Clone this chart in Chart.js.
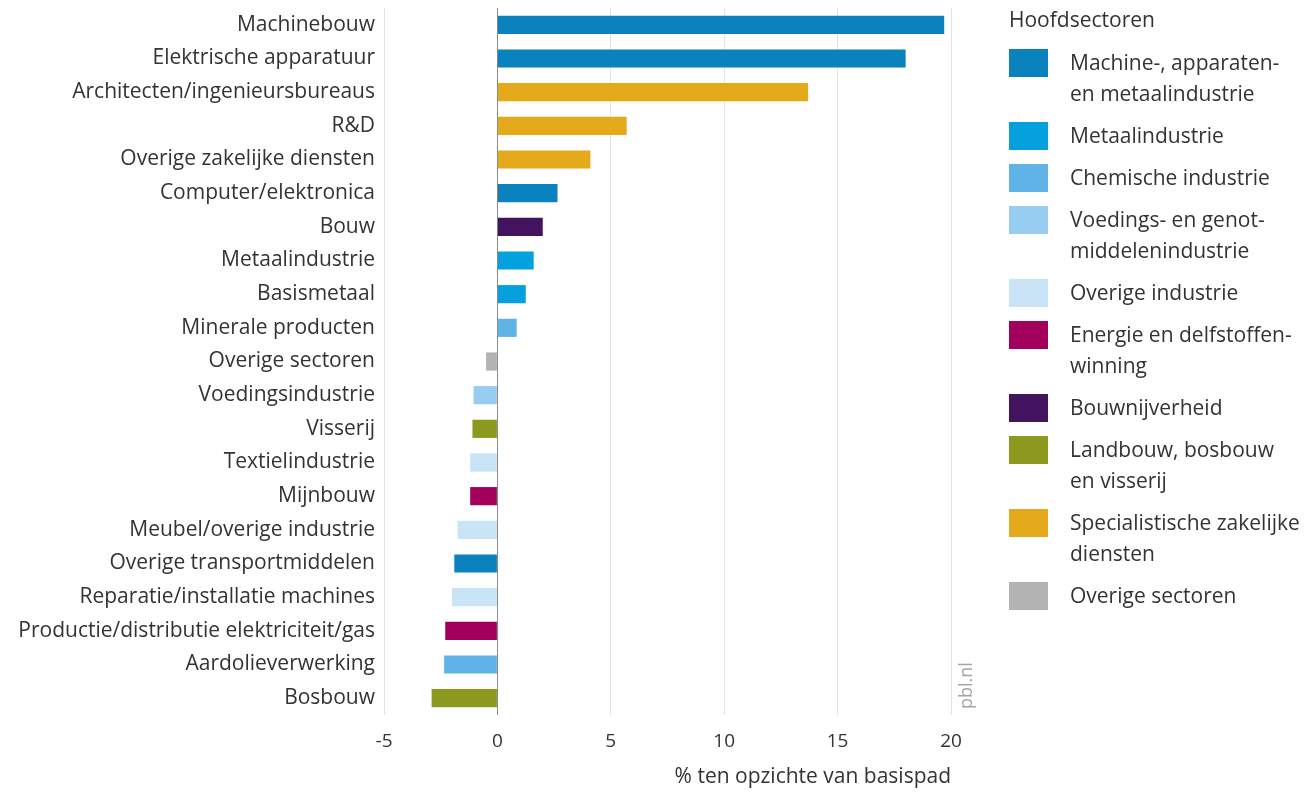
<!DOCTYPE html>
<html>
<head>
<meta charset="utf-8">
<script src="https://cdn.jsdelivr.net/npm/chart.js@4"></script>
<style>
  html, body { margin: 0; padding: 0; background: #fff; }
  #wrap { position: relative; width: 1307px; height: 793px; }
  #legend {
    position: absolute; left: 1009px; top: 4px;
    font-family: "Open Sans", sans-serif; font-size: 21px; color: #333;
  }
  #legend .title { line-height: 31px; margin-bottom: 12px; }
  #legend .item { display: flex; align-items: flex-start; margin-bottom: 11px; }
  #legend .sw { width: 39px; height: 28px; margin-top: 2px; margin-right: 22px; flex: none; }
  #legend .txt { line-height: 31px; }
</style>
</head>
<body>
<div id="wrap">
  <canvas id="chart" width="1307" height="793"></canvas>
  <div id="legend"></div>
</div>
<script>
// categories, top to bottom
const categories = [
  "Machinebouw", "Elektrische apparatuur", "Architecten/ingenieursbureaus", "R&D",
  "Overige zakelijke diensten", "Computer/elektronica", "Bouw", "Metaalindustrie",
  "Basismetaal", "Minerale producten", "Overige sectoren", "Voedingsindustrie",
  "Visserij", "Textielindustrie", "Mijnbouw", "Meubel/overige industrie",
  "Overige transportmiddelen", "Reparatie/installatie machines",
  "Productie/distributie elektriciteit/gas", "Aardolieverwerking", "Bosbouw"
];
// % ten opzichte van basispad
const values = [
  19.7, 18.0, 13.7, 5.7, 4.1, 2.65, 2.0, 1.6, 1.25, 0.85, -0.5, -1.05,
  -1.1, -1.2, -1.2, -1.75, -1.9, -2.0, -2.3, -2.35, -2.9
];
// index into sectors for each category
const sectorOf = [0, 0, 8, 8, 8, 0, 6, 1, 1, 2, 9, 3, 7, 4, 5, 4, 0, 4, 5, 2, 7];

const sectors = [
  ["Machine-, apparaten-", "en metaalindustrie"],
  ["Metaalindustrie"],
  ["Chemische industrie"],
  ["Voedings- en genot-", "middelenindustrie"],
  ["Overige industrie"],
  ["Energie en delfstoffen-", "winning"],
  ["Bouwnijverheid"],
  ["Landbouw, bosbouw", "en visserij"],
  ["Specialistische zakelijke", "diensten"],
  ["Overige sectoren"]
];
const sectorColors = [
  "#0a82bd", "#05a1df", "#5fb3e7", "#97cdf0", "#c9e4f6",
  "#a3005e", "#42145f", "#8b991e", "#e5a91c", "#b3b3b3"
];
const xTicks = [-5, 0, 5, 10, 15, 20];

const font = "'Open Sans', sans-serif";

// html legend
const legendEl = document.getElementById("legend");
let html = '<div class="title">Hoofdsectoren</div>';
sectors.forEach((lines, i) => {
  html += '<div class="item"><div class="sw" style="background:' + sectorColors[i] +
    '"></div><div class="txt">' + lines.join("<br>") + '</div></div>';
});
legendEl.innerHTML = html;

const pblLabel = {
  id: "pblLabel",
  afterDraw(chart) {
    const { ctx, chartArea } = chart;
    ctx.save();
    ctx.translate(chartArea.right + 16, chartArea.bottom - 6);
    ctx.rotate(-Math.PI / 2);
    ctx.font = "18px " + font;
    ctx.fillStyle = "#a6a6a6";
    ctx.textAlign = "left";
    ctx.textBaseline = "middle";
    ctx.fillText("pbl.nl", 0, 0);
    ctx.restore();
  }
};

new Chart(document.getElementById("chart"), {
  type: "bar",
  data: {
    labels: categories,
    datasets: [{
      data: values,
      backgroundColor: sectorOf.map((s) => sectorColors[s]),
      barPercentage: 0.54,
      categoryPercentage: 1.0,
    }],
  },
  options: {
    indexAxis: "y",
    responsive: false,
    animation: false,
    devicePixelRatio: 1,
    layout: { padding: { top: 8, right: 356, bottom: 0, left: 0 } },
    plugins: {
      legend: { display: false },
      tooltip: { enabled: false },
    },
    scales: {
      x: {
        min: -5,
        max: 20,
        afterBuildTicks: (scale) => { scale.ticks = xTicks.map((v) => ({ value: v })); },
        afterFit: (scale) => { scale.height = 78; },
        border: { display: false },
        grid: {
          drawTicks: false,
          color: (c) => (c.tick && c.tick.value === 0 ? "#8c8c8c" : "#e2e2e2"),
          lineWidth: 1,
        },
        ticks: {
          padding: 15,
          color: "#333",
          font: { family: font, size: 19 },
        },
        title: {
          display: true,
          text: "% ten opzichte van basispad",
          align: "end",
          color: "#333",
          font: { family: font, size: 21 },
          padding: { top: 0, bottom: 3 },
        },
      },
      y: {
        afterFit: (scale) => {
          scale.width = 384;
          scale.paddingTop = 0;
          scale.paddingBottom = 0;
        },
        border: { display: false },
        grid: { display: false, drawTicks: false },
        ticks: {
          padding: 9,
          color: "#333",
          autoSkip: false,
          font: { family: font, size: 21 },
        },
      },
    },
  },
  plugins: [pblLabel],
});
</script>
</body>
</html>
